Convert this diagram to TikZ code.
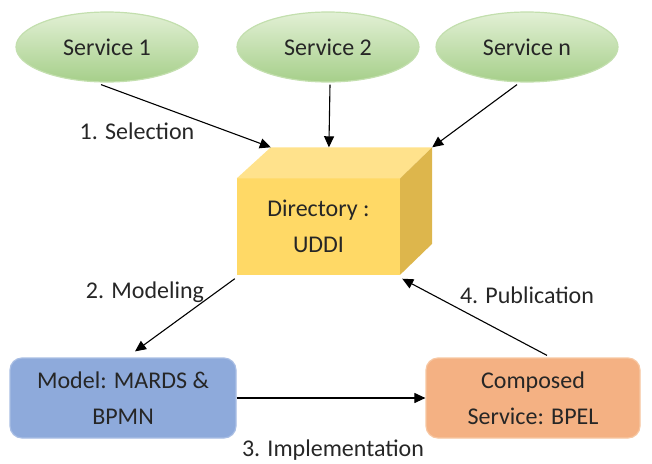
\documentclass[tikz,border=0pt]{standalone}
\usepackage{fontspec}
\setmainfont{Carlito}
\usetikzlibrary{arrows.meta,calc,shapes.geometric}

\definecolor{txt}{HTML}{262626}
\definecolor{gtop}{HTML}{E2F0D5}
\definecolor{gbot}{HTML}{A6CF8A}
\definecolor{gline}{HTML}{C3DFAE}
\definecolor{cubefront}{HTML}{FFD966}
\definecolor{cubetop}{HTML}{FFE28C}
\definecolor{cuberight}{HTML}{DDB64C}
\definecolor{modelfill}{HTML}{8EAADB}
\definecolor{modelline}{HTML}{A9BEE4}
\definecolor{compfill}{HTML}{F4B183}
\definecolor{compline}{HTML}{F7C7A2}

\tikzset{
  every node/.style={text=txt, font=\fontsize{24}{36}\selectfont},
  service/.style={ellipse, minimum width=182pt, minimum height=70pt,
    top color=gtop, bottom color=gbot, draw=gline, line width=1.2pt},
  roundbox/.style={rectangle, rounded corners=12pt, minimum width=226pt,
    minimum height=80pt, align=center, line width=1.2pt},
  flow/.style={draw=black, line width=1.1pt,
    -{Triangle[length=11pt,width=10pt]}},
  lbl/.style={inner sep=0pt}
}

\begin{document}
\begin{tikzpicture}[x=1pt, y=-1pt]
\useasboundingbox (0,0) rectangle (652,463);

% the three services
\node[service] (s1) at (107,47) {Service 1};
\node[service] (s2) at (328,47) {Service 2};
\node[service] (sn) at (527,47) {Service n};

% directory drawn as a box with top and side faces
\node[rectangle, minimum width=163pt, minimum height=96pt, inner sep=0pt,
      align=center] (dir) at (318.5,226.5) {};
\coordinate (bl) at (dir.north west);
\coordinate (br) at (dir.north east);
\coordinate (fr) at (dir.south east);
\coordinate (dtl) at ($(bl)+(34,-31)$);
\coordinate (dtr) at ($(br)+(32,-31)$);
\coordinate (dbr) at ($(fr)+(32,-31)$);
\coordinate (dtm) at ($(dtl)!0.36!(dtr)$);
\fill[cubefront] (dir.north west) rectangle (dir.south east);
\fill[cubetop] (bl) -- (dtl) -- (dtr) -- (br) -- cycle;
\fill[cuberight] (br) -- (dtr) -- (dbr) -- (fr) -- cycle;
\node[align=center] at (dir.center) {Directory :\\UDDI};

% model and composed service
\node[roundbox, fill=modelfill, draw=modelline] (model) at (123,398)
  {Model: MARDS \&\\BPMN};
\node[roundbox, fill=compfill, draw=compline, minimum width=214pt] (comp)
  at (533,398) {Composed\\Service: BPEL};

% connectors
\draw[flow] ($(s1.south)+(-6,2)$) -- (dtl);
\draw[flow] ($(s2.south)+(2,2)$) -- (dtm);
\draw[flow] ($(sn.south)+(-10,2)$) -- (dtr);
\draw[flow] ($(dir.south west)+(-2,4)$) -- ($(model.north)+(12,-6)$);
\draw[flow] (model.east) -- (comp.west);
\draw[flow] ($(comp.north)+(14,-2)$) -- ($(dir.south east)+(2,4)$);

% step labels
\node[lbl] (l1) at (137,131) {1. Selection};
\node[lbl] (l2) at (145,292) {2. Modeling};
\node[lbl] (l3) at (333,450) {3. Implementation};
\node[lbl] (l4) at (527,295) {4. Publication};
\end{tikzpicture}
\end{document}
